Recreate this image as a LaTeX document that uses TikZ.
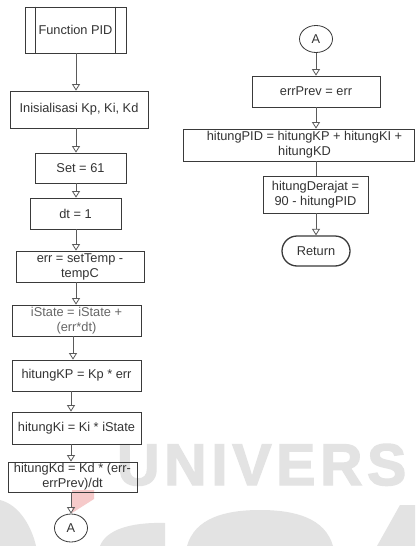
\documentclass[tikz,border=0pt]{standalone}
\usepackage{fontspec}
\setmainfont{Liberation Sans}
\newfontfamily\wmfont[LetterSpace=8,FakeBold=2.5]{Liberation Sans}
\usetikzlibrary{arrows.meta,shapes.geometric,calc}
\definecolor{boxc}{HTML}{3A3A3A}
\definecolor{linec}{HTML}{5A5A5A}
\definecolor{txt}{HTML}{333333}
\definecolor{wm}{HTML}{E3E3E3}
\definecolor{wmpink}{HTML}{F6CACA}

\begin{document}
\begin{tikzpicture}[x=1pt,y=-1pt,
  box/.style={draw=boxc, line width=0.8pt, rectangle, inner sep=0pt,
    align=center, text=txt, font=\fontsize{12.8}{15}\selectfont},
  conn/.style={draw=linec, line width=0.8pt},
  arr/.style={conn, -{Triangle[open, length=6.5pt, width=8pt]}},
  connector/.style={box, shape=ellipse, minimum width=33pt, minimum height=28pt},
  endbox/.style={box, line width=1.3pt, rounded corners=15pt}]

\useasboundingbox (0,0) rectangle (415,546);
\fill[white] (0,0) rectangle (415,546);

% background watermark
\fill[wmpink] (72,490) -- (94,490) -- (94,499) -- (72,513) -- cycle;
\node[anchor=base west, inner sep=0pt, text=wm,
  font=\wmfont\bfseries\fontsize{58.7}{60}\selectfont] (wmtext) at (117,485) {UNIVERS};
\fill[wm] (0,500) .. controls (20,505) and (32,528) .. (36,546) -- (0,546) -- cycle;
\fill[wm] (100,546) .. controls (106,530) and (130,522) .. (165,523) -- (165,546) -- cycle;
\fill[wm] (187,546) .. controls (195,518) and (225,510) .. (260,510)
  .. controls (295,510) and (325,518) .. (333,546) -- cycle;
\fill[wm] (377,546) -- (400,505) -- (415,505) -- (415,546) -- cycle;

% left column
\node[box, minimum width=101pt, minimum height=46pt] (fn) at (75.5,30) {Function PID};
\draw[boxc, line width=0.8pt] ([xshift=11pt]fn.north west) -- ([xshift=11pt]fn.south west);
\draw[boxc, line width=0.8pt] ([xshift=-11pt]fn.north east) -- ([xshift=-11pt]fn.south east);
\node[box, minimum width=138pt, minimum height=37pt] (init) at (79,109.5) {Inisialisasi Kp, Ki, Kd};
\node[box, minimum width=91pt, minimum height=30pt] (set) at (80.5,168) {Set = 61};
\node[box, minimum width=91pt, minimum height=31pt] (dt) at (75.5,213.5) {dt = 1};
\node[box, minimum width=128pt, minimum height=31pt] (err) at (80,266.5) {err = setTemp -\\tempC};
\node[box, minimum width=129pt, minimum height=31pt, text=txt!75] (ist) at (76.5,320.5) {iState = iState +\\(err*dt)};
\node[box, minimum width=129pt, minimum height=31pt] (kp) at (76.5,375.5) {hitungKP = Kp * err};
\node[box, minimum width=129pt, minimum height=32pt] (ki) at (76.5,428) {hitungKi = Ki * iState};
\node[box, minimum width=129pt, minimum height=30pt] (kd) at (72.5,477) {hitungKd = Kd * (err-\\errPrev)/dt};
\node[connector] (ca) at (71,528) {A};

\coordinate (colA) at (76,0);
\coordinate (colB) at (73,0);
\coordinate (colC) at (71,0);
\draw[arr] (fn.south -| colA) -- (init.north -| colA);
\draw[arr] (init.south -| colA) -- (set.north -| colA);
\draw[arr] (set.south -| colA) -- (dt.north -| colA);
\draw[arr] (dt.south -| colA) -- (err.north -| colA);
\draw[arr] (err.south -| colA) -- (ist.north -| colA);
\draw[arr] (ist.south -| colB) -- (kp.north -| colB);
\draw[arr] (kp.south -| colC) -- (ki.north -| colC);
\draw[arr] (ki.south -| colC) -- (kd.north -| colC);
\draw[arr] (kd.south -| colC) -- (ca.north);

% right column
\node[connector, minimum width=33pt, minimum height=27pt] (cb) at (316,39) {A};
\node[box, minimum width=128pt, minimum height=31pt] (prev) at (316,91.5) {errPrev = err};
\node[box, minimum width=231pt, minimum height=32pt] (pid) at (298.5,145) {};
\node[align=center, inner sep=0pt, text=txt, font=\fontsize{12.8}{15}\selectfont] (pidtext) at (304.5,145)
  {hitungPID = hitungKP + hitungKI +\\hitungKD};
\node[box, minimum width=105pt, minimum height=37pt] (hd) at (315.5,194.5) {hitungDerajat =\\90 - hitungPID};
\node[endbox, minimum width=68pt, minimum height=30pt] (ret) at (316,251) {Return};

\coordinate (colR) at (316,0);
\draw[arr] (cb.south) -- (prev.north -| colR);
\draw[arr] (prev.south -| colR) -- (pid.north -| colR);
\draw[conn] (pid.south -| colR) -- (hd.north -| colR);
\draw[arr] (hd.south -| colR) -- (ret.north);
\end{tikzpicture}
\end{document}
